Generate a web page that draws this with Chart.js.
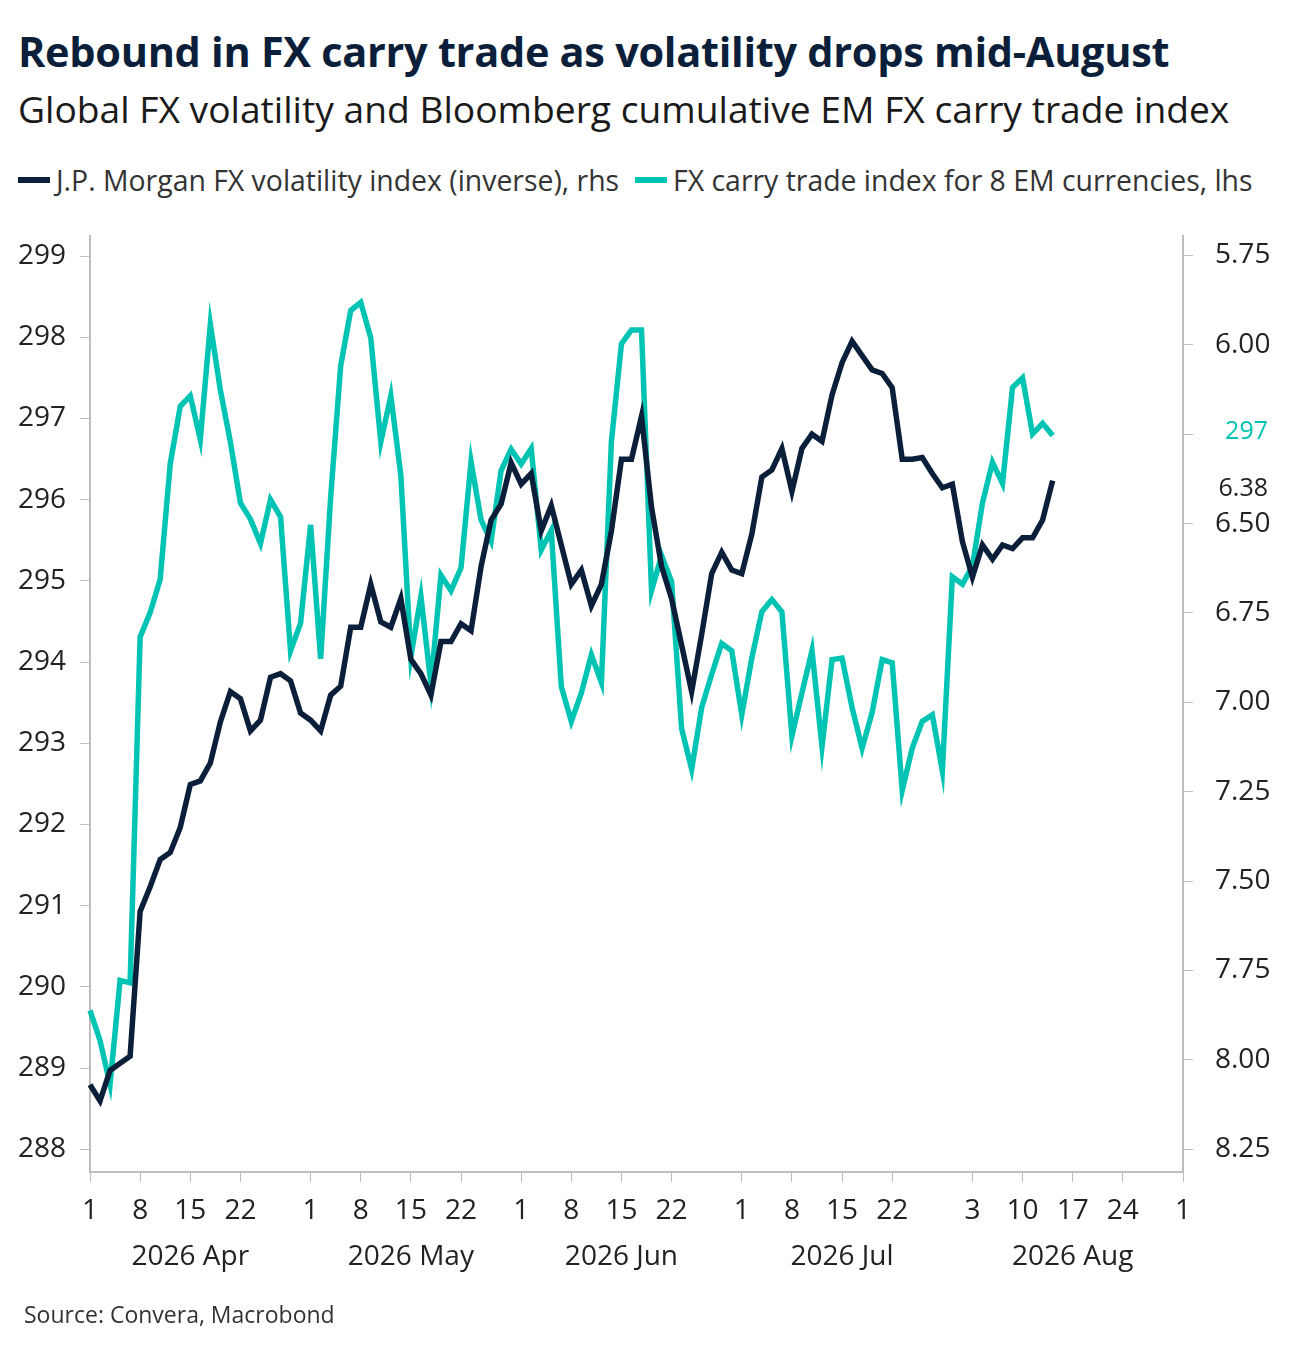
<!DOCTYPE html>
<html lang="en">
<head>
<meta charset="UTF-8">
<title>Rebound in FX carry trade</title>
<script src="https://cdn.jsdelivr.net/npm/chart.js"></script>
<style>
  body { margin: 0; width: 1301px; height: 1356px; background: #fff; font-family: 'Open Sans', 'Noto Sans', sans-serif; color: #1a1a1a; position: relative; overflow: hidden; }
  h1 { position: absolute; left: 18px; top: 23px; margin: 0; font-size: 41.5px; font-weight: 700; color: #0b1f3a; letter-spacing: -0.3px; white-space: nowrap; }
  h2 { position: absolute; left: 18px; top: 83px; margin: 0; font-size: 37.2px; font-weight: 400; color: #1a1a1a; white-space: nowrap; }
  .legend { position: absolute; left: 18px; top: 161px; font-size: 28.4px; display: flex; align-items: center; white-space: nowrap; color: #333; }
  .legend .sw { display: inline-block; width: 32px; height: 6px; margin-right: 6px; }
  .legend .item { display: flex; align-items: center; margin-right: 16px; }
  .chartbox { position: absolute; left: 0; top: 197px; width: 1301px; height: 1103px; }
  .source { position: absolute; left: 24px; top: 1298px; font-size: 23px; color: #333; }
</style>
</head>
<body>
<h1>Rebound in FX carry trade as volatility drops mid-August</h1>
<h2>Global FX volatility and Bloomberg cumulative EM FX carry trade index</h2>
<div class="legend">
  <span class="item"><span class="sw" style="background:#0b1f3a"></span>J.P. Morgan FX volatility index (inverse), rhs</span>
  <span class="item"><span class="sw" style="background:#00c4b3"></span>FX carry trade index for 8 EM currencies, lhs</span>
</div>
<div class="chartbox"><canvas id="chart"></canvas></div>
<div class="source">Source: Convera, Macrobond</div>
<script>
// weekday calendar Apr 1 – Sep 1 2026 (category axis, business days only)
const startDate = '2026-04-01';
const endDate = '2026-09-01';
const tickDates = ['2026-04-01','2026-04-08','2026-04-15','2026-04-22',
  '2026-05-01','2026-05-08','2026-05-15','2026-05-22',
  '2026-06-01','2026-06-08','2026-06-15','2026-06-22',
  '2026-07-01','2026-07-08','2026-07-15','2026-07-22',
  '2026-08-03','2026-08-10','2026-08-17','2026-08-24','2026-09-01'];
const monthLabelDates = {'2026-04-15':'2026 Apr','2026-05-15':'2026 May','2026-06-15':'2026 Jun','2026-07-15':'2026 Jul','2026-08-17':'2026 Aug'};

// FX carry trade index for 8 EM currencies (lhs), daily from Apr 1
const carryIndex = [289.71,289.34,288.80,290.08,290.05,294.31,294.61,295.02,296.44,297.15,
  297.28,296.74,298.16,297.35,296.71,295.96,295.76,295.46,296.00,295.79,
  294.14,294.48,295.69,294.04,296.03,297.65,298.33,298.43,297.99,296.71,
  297.28,296.30,294.07,294.81,293.73,295.07,294.88,295.16,296.47,295.75,
  295.49,296.36,296.62,296.44,296.63,295.38,295.62,293.70,293.27,293.62,
  294.09,293.75,296.72,297.92,298.09,298.09,294.88,295.31,294.99,293.18,
  292.68,293.44,293.85,294.23,294.14,293.35,294.05,294.62,294.77,294.62,
  293.09,293.62,294.14,292.96,294.03,294.05,293.44,292.94,293.38,294.03,
  293.99,292.42,292.94,293.27,293.35,292.66,295.05,294.96,295.18,295.96,
  296.46,296.20,297.38,297.50,296.81,296.94,296.79];

// J.P. Morgan FX volatility index (rhs, inverted axis)
const fxVol = [8.07,8.115,8.03,8.01,7.99,7.585,7.516,7.44,7.42,7.35,
  7.23,7.22,7.17,7.055,6.97,6.99,7.08,7.05,6.93,6.92,
  6.94,7.03,7.05,7.08,6.98,6.955,6.79,6.79,6.67,6.775,
  6.79,6.71,6.88,6.92,6.98,6.83,6.83,6.78,6.80,6.62,
  6.49,6.445,6.33,6.39,6.36,6.52,6.45,6.56,6.67,6.63,
  6.73,6.67,6.52,6.32,6.32,6.20,6.455,6.62,6.71,6.84,
  6.97,6.81,6.64,6.58,6.63,6.64,6.53,6.37,6.35,6.29,
  6.41,6.29,6.25,6.27,6.14,6.05,5.99,6.03,6.07,6.08,
  6.12,6.32,6.32,6.315,6.36,6.40,6.39,6.55,6.65,6.56,
  6.60,6.56,6.57,6.54,6.54,6.49,6.38];

const leftTicks = [288,289,290,291,292,293,294,295,296,297,298,299];
const rightTicks = [5.75,6.00,6.25,6.50,6.75,7.00,7.25,7.50,7.75,8.00,8.25];

const NAVY = '#0b1f3a', TEAL = '#00c4b3', AXIS = '#bdbdbd', TXT = '#222';

const days = [];
for (let d = new Date(startDate + 'T00:00:00Z'); d <= new Date(endDate + 'T00:00:00Z'); d.setUTCDate(d.getUTCDate() + 1)) {
  const wd = d.getUTCDay();
  if (wd !== 0 && wd !== 6) days.push(d.toISOString().slice(0, 10));
}

const endLabels = {
  id: 'endLabels',
  afterDatasetsDraw(chart) {
    const ctx = chart.ctx;
    ctx.save();
    ctx.font = '25px "Open Sans", sans-serif';
    ctx.textBaseline = 'middle';
    const items = [
      { text: '297', color: TEAL, y: chart.scales.y.getPixelForValue(carryIndex[carryIndex.length - 1]) - 4 },
      { text: '6.38', color: TXT, y: chart.scales.y1.getPixelForValue(fxVol[fxVol.length - 1]) + 8 }
    ];
    items.forEach(it => {
      const w = ctx.measureText(it.text).width;
      const x = 1268 - w;
      ctx.fillStyle = '#fff';
      ctx.fillRect(1203, it.y - 15, 85, 30);
      ctx.fillStyle = it.color;
      ctx.fillText(it.text, x, it.y);
    });
    ctx.restore();
  }
};

new Chart('chart', {
  type: 'line',
  data: {
    labels: days,
    datasets: [
      { label: 'J.P. Morgan FX volatility index (inverse), rhs', data: fxVol, yAxisID: 'y1', borderColor: NAVY, borderWidth: 5.5, pointRadius: 0, tension: 0 },
      { label: 'FX carry trade index for 8 EM currencies, lhs', data: carryIndex, yAxisID: 'y', borderColor: TEAL, borderWidth: 5.5, pointRadius: 0, tension: 0 }
    ]
  },
  options: {
    responsive: true,
    maintainAspectRatio: false,
    animation: false,
    layout: { padding: { top: 10, left: 0, right: 0, bottom: 0 } },
    plugins: { legend: { display: false }, tooltip: { enabled: false } },
    scales: {
      x: {
        offset: false,
        grid: { drawOnChartArea: false, color: AXIS, tickLength: 10 },
        border: { color: AXIS, width: 2 },
        afterBuildTicks(scale) {
          scale.ticks = tickDates.map(t => ({ value: days.indexOf(t) }));
        },
        afterFit(scale) { scale.height = 128; },
        ticks: {
          autoSkip: false, maxRotation: 0, color: TXT, padding: 6,
          font: { size: 28, family: '"Open Sans", sans-serif', lineHeight: 1.65 },
          callback(value) {
            const iso = days[value];
            const day = String(parseInt(iso.slice(8, 10), 10));
            return monthLabelDates[iso] ? [day, monthLabelDates[iso]] : day;
          }
        }
      },
      y: {
        position: 'left',
        min: 287.72, max: 299.25,
        grid: { drawOnChartArea: false, color: AXIS, tickLength: 10 },
        border: { color: AXIS, width: 2 },
        afterBuildTicks(scale) { scale.ticks = leftTicks.map(v => ({ value: v })); },
        afterFit(scale) { scale.width = 90; },
        ticks: { color: TXT, padding: 14, font: { size: 28, family: '"Open Sans", sans-serif' } }
      },
      y1: {
        position: 'right',
        reverse: true,
        min: 5.695, max: 8.314,
        grid: { drawOnChartArea: false, color: AXIS, tickLength: 10 },
        border: { color: AXIS, width: 2 },
        afterBuildTicks(scale) { scale.ticks = rightTicks.map(v => ({ value: v })); },
        afterFit(scale) { scale.width = 118; },
        ticks: { color: TXT, padding: 22, font: { size: 28, family: '"Open Sans", sans-serif' }, callback: v => v.toFixed(2) }
      }
    }
  },
  plugins: [endLabels]
});
</script>
</body>
</html>
